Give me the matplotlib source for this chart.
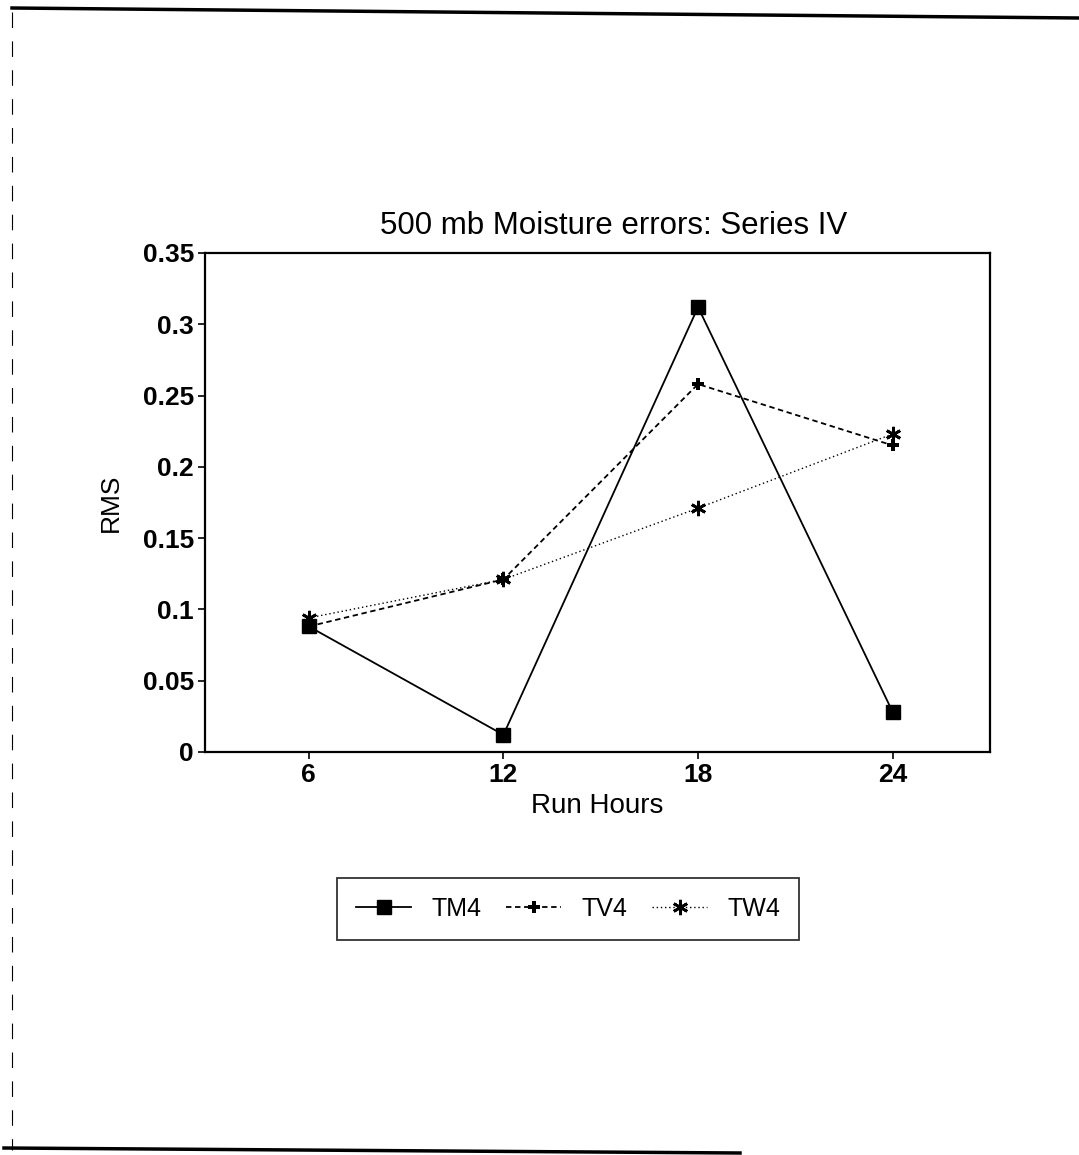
import matplotlib
matplotlib.use('Agg')
import matplotlib.pyplot as plt
from matplotlib.lines import Line2D

plt.rcParams['font.family'] = ['Liberation Sans', 'DejaVu Sans']

run_hours = [6, 12, 18, 24]
tm4 = [0.088, 0.012, 0.312, 0.028]
tv4 = [0.088, 0.121, 0.258, 0.215]
tw4 = [0.094, 0.121, 0.171, 0.223]
y_ticks = [0, 0.05, 0.1, 0.15, 0.2, 0.25, 0.3, 0.35]
y_labels = ['0', '0.05', '0.1', '0.15', '0.2', '0.25', '0.3', '0.35']

fig = plt.figure(figsize=(10.79, 11.55), dpi=100)
ax = fig.add_axes([0.190, 0.349, 0.7275, 0.432])

ax.plot(run_hours, tm4, color='black', ls='-', lw=1.3, marker='s', ms=10, label='TM4')
ax.plot(run_hours, tv4, color='black', ls=(0, (3, 2)), lw=1.3, marker='P', ms=9,
        markeredgewidth=0, label='TV4')
ax.plot(run_hours, tw4, color='black', ls=(0, (1, 2)), lw=1.0, marker=(6, 2, 0), ms=11,
        markeredgewidth=2, label='TW4')

ax.set_xlim(2.8, 27)
ax.set_ylim(0, 0.35)
ax.set_xticks(run_hours)
ax.set_xticklabels([str(h) for h in run_hours], fontsize=19, fontweight='bold')
ax.set_yticks(y_ticks)
ax.set_yticklabels(y_labels, fontsize=19, fontweight='bold')
ax.tick_params(direction='out', length=5, width=1.2, color='black', pad=3)
for s in ax.spines.values():
    s.set_linewidth(1.6)
    s.set_color('black')

ax.set_title('500 mb Moisture errors: Series IV', fontsize=22.5, pad=14, x=0.52)
ax.set_xlabel('Run Hours', fontsize=20, labelpad=4)
ax.set_ylabel('RMS', fontsize=19, labelpad=14)

leg = fig.legend(loc='center', bbox_to_anchor=(568 / 1079, 1 - 909 / 1155), ncol=3,
                 fontsize=18, frameon=True, fancybox=False, edgecolor='black',
                 borderpad=0.75, handlelength=2.2, columnspacing=1.0, handletextpad=0.8)
leg.get_frame().set_linewidth(1.3)

# scanned page frame
fig.add_artist(Line2D([12 / 1079, 1.0], [1 - 8 / 1155, 1 - 18 / 1155], color='black', lw=2.5))
fig.add_artist(Line2D([12 / 1079, 12 / 1079], [1 - 12 / 1155, 1 - 1150 / 1155], color='black',
                      lw=0.8, ls=(0, (14, 12))))
fig.add_artist(Line2D([4 / 1079, 740 / 1079], [1 - 1148 / 1155, 1 - 1153 / 1155], color='black', lw=2.5))

fig.savefig('out.png', dpi=100)
